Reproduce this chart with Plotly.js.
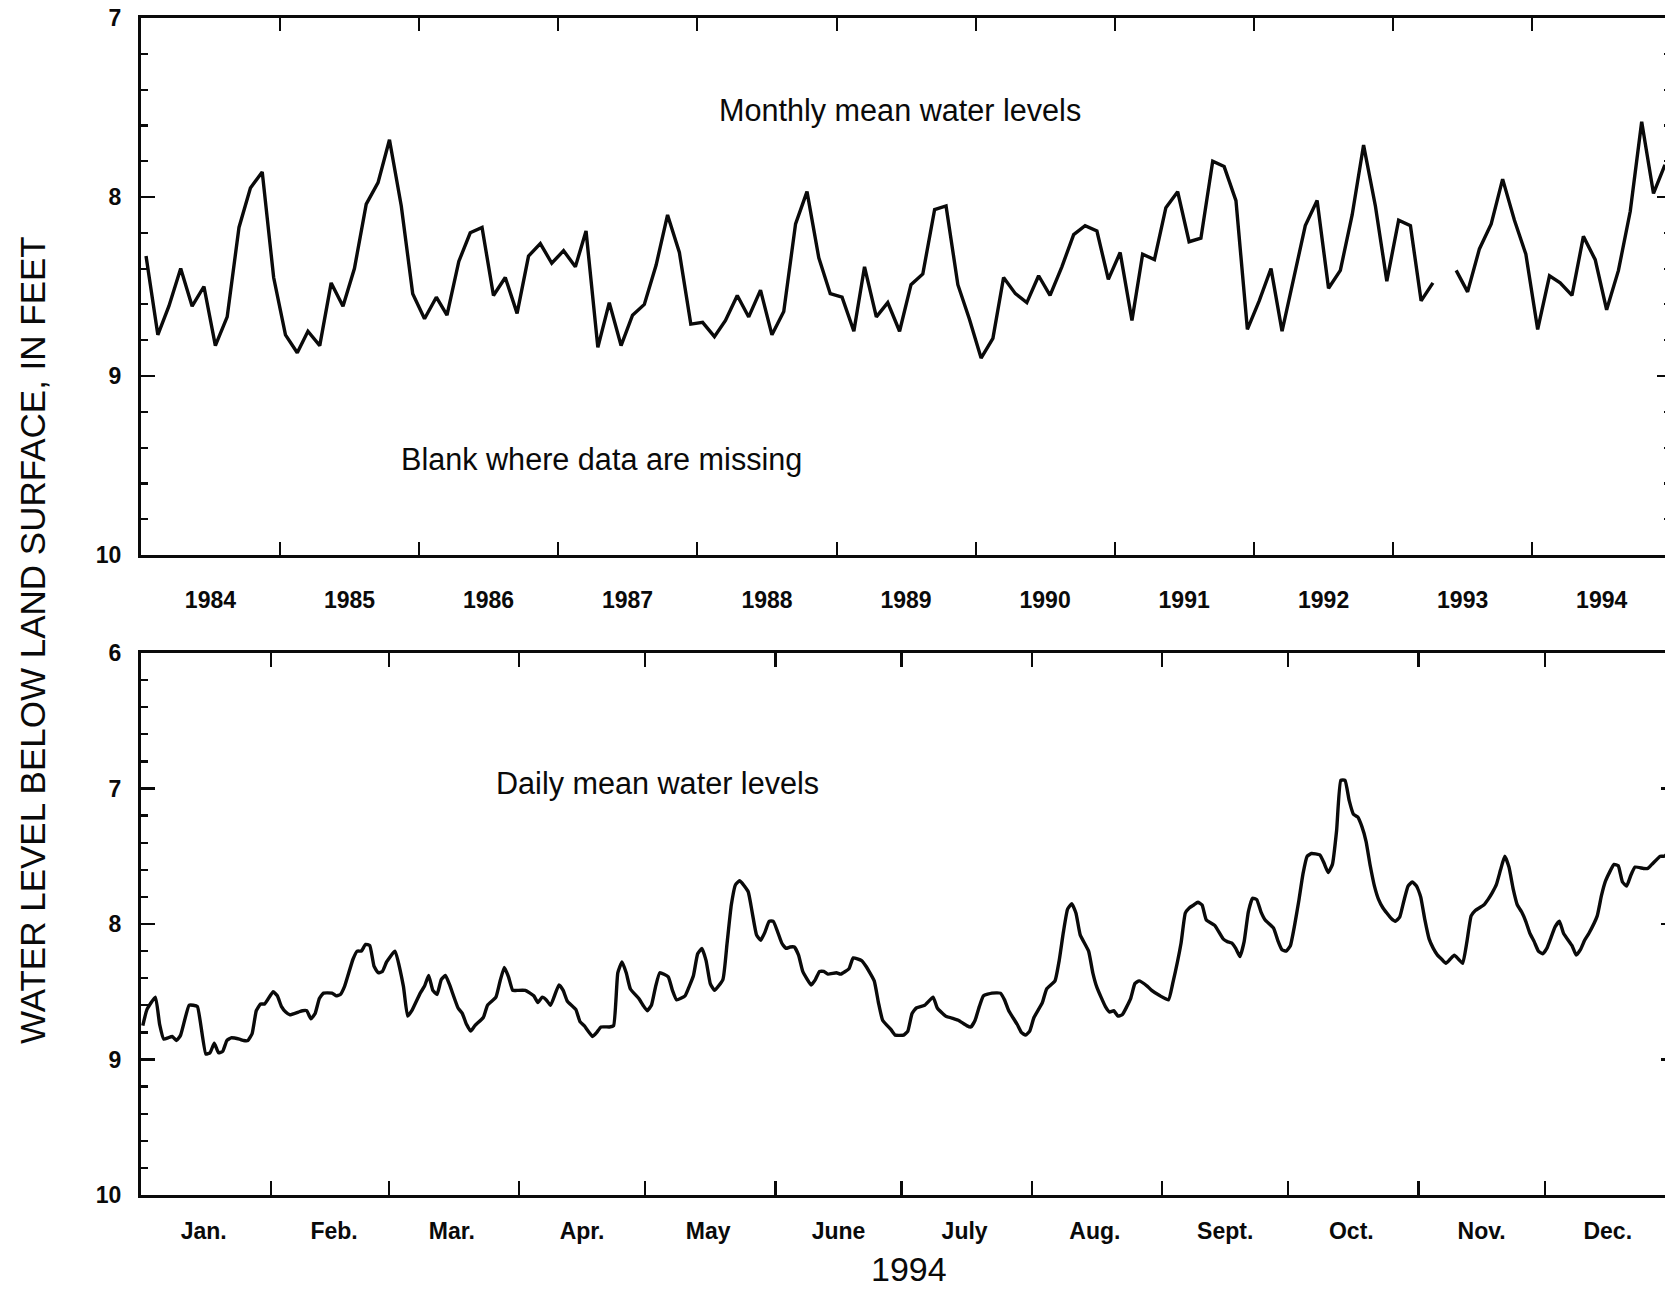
<!DOCTYPE html>
<html>
<head>
<meta charset="utf-8">
<script src="https://cdn.plot.ly/plotly-3.0.1.min.js"></script>
<style>
  html, body { margin: 0; padding: 0; overflow: hidden; background: #ffffff; }
  #chart { width: 1690px; height: 1289px; }
</style>
</head>
<body>
<div id="chart"></div>
<script>
// ---- Monthly mean water level below land surface (feet), by year ----
const years = [1984, 1985, 1986, 1987, 1988, 1989, 1990, 1991, 1992, 1993, 1994];
const levels1984 = [8.33, 8.77, 8.61, 8.40, 8.61, 8.50, 8.83, 8.67, 8.17, 7.95, 7.86, 8.45];
const levels1985 = [8.77, 8.87, 8.75, 8.83, 8.48, 8.61, 8.40, 8.04, 7.92, 7.68, 8.05, 8.54];
const levels1986 = [8.68, 8.56, 8.66, 8.36, 8.20, 8.17, 8.55, 8.45, 8.65, 8.33, 8.26, 8.37];
const levels1987 = [8.30, 8.39, 8.19, 8.84, 8.59, 8.83, 8.66, 8.60, 8.38, 8.10, 8.31, 8.71];
const levels1988 = [8.70, 8.78, 8.69, 8.55, 8.67, 8.52, 8.77, 8.64, 8.15, 7.97, 8.34, 8.54];
const levels1989 = [8.56, 8.75, 8.39, 8.67, 8.59, 8.75, 8.49, 8.43, 8.07, 8.05, 8.49, 8.68];
const levels1990 = [8.90, 8.79, 8.45, 8.54, 8.59, 8.44, 8.55, 8.39, 8.21, 8.16, 8.19, 8.46];
const levels1991 = [8.31, 8.69, 8.32, 8.35, 8.06, 7.97, 8.25, 8.23, 7.80, 7.83, 8.02, 8.74];
const levels1992 = [8.58, 8.40, 8.75, 8.44, 8.16, 8.02, 8.51, 8.41, 8.10, 7.71, 8.05, 8.47];
const levels1993 = [8.13, 8.16, 8.58, 8.48, null, 8.41, 8.53, 8.29, 8.15, 7.90, 8.13, 8.32];
const levels1994 = [8.74, 8.44, 8.48, 8.55, 8.22, 8.35, 8.63, 8.41, 8.08, 7.58, 7.98, 7.82];
const monthlyByYear = [levels1984, levels1985, levels1986, levels1987, levels1988, levels1989,
                       levels1990, levels1991, levels1992, levels1993, levels1994];

// ---- Daily mean water level, 1994 (day of year, feet below land surface) ----
const dailyDayOfYear = [
  1, 2, 4, 5, 6, 7, 8, 9, 10, 12, 13, 14, 16, 17, 18, 19, 20, 21, 22, 24, 25, 26, 27, 28, 29, 30,
  32, 33, 34, 35, 36, 38, 39, 40, 41, 42, 43, 44, 46, 47, 48, 49, 51, 52, 53, 54, 55, 56, 57, 58, 59,
  61, 63, 64, 65, 67, 68, 69, 70, 71, 72, 73, 74, 76, 77, 78, 79, 80, 82, 83, 85, 86, 87, 88, 89, 90,
  92, 94, 95, 96, 97, 98, 100, 101, 102, 104, 105, 106, 108, 109, 110, 112, 113, 114, 115, 116, 117, 119, 120,
  121, 122, 123, 124, 126, 127, 128, 130, 131, 132, 133, 134, 135, 136, 137, 139, 140, 141, 142, 143, 145,
  146, 147, 148, 149, 150, 151, 153, 154, 155, 156, 157, 158, 160, 161, 162, 163, 164, 166, 167, 169, 170,
  172, 173, 175, 176, 177, 179, 180, 182, 183, 184, 185, 187, 189, 190, 192, 194, 195, 197, 198, 199, 200,
  201, 203, 205, 206, 207, 209, 210, 211, 212, 213, 215, 216, 218, 219, 220, 221, 222, 223, 224, 226, 227,
  228, 230, 231, 232, 233, 234, 236, 237, 238, 240, 241, 243, 245, 246, 248, 249, 250, 251, 252, 253, 254,
  256, 258, 259, 260, 261, 262, 263, 264, 265, 266, 267, 268, 270, 271, 272, 273, 274, 275, 276, 277, 278,
  279, 281, 282, 283, 284, 285, 286, 287, 288, 289, 290, 291, 292, 293, 294, 295, 296, 298, 299, 300, 301,
  302, 303, 304, 305, 306, 307, 308, 309, 310, 311, 312, 313, 314, 315, 316, 317, 318, 319, 320, 321, 322,
  323, 324, 325, 326, 327, 328, 329, 330, 331, 332, 333, 334, 335, 336, 337, 338, 339, 341, 342, 343, 344,
  345, 347, 348, 349, 351, 352, 353, 354, 355, 356, 358, 359, 360, 362, 363, 364
];
const dailyLevel = [
  8.75, 8.63, 8.54, 8.74, 8.85, 8.84, 8.83, 8.86, 8.82, 8.60, 8.60, 8.61, 8.96, 8.95, 8.88, 8.95, 8.94, 8.86, 8.84, 8.85, 8.86, 8.86, 8.81, 8.64, 8.59, 8.59,
  8.50, 8.53, 8.61, 8.65, 8.67, 8.65, 8.64, 8.64, 8.70, 8.66, 8.55, 8.51, 8.51, 8.53, 8.52, 8.46, 8.26, 8.20, 8.20, 8.15, 8.16, 8.31, 8.36, 8.35, 8.28,
  8.20, 8.46, 8.68, 8.64, 8.51, 8.46, 8.38, 8.49, 8.52, 8.41, 8.38, 8.45, 8.62, 8.66, 8.74, 8.79, 8.75, 8.69, 8.60, 8.54, 8.42, 8.32, 8.39, 8.49, 8.49,
  8.49, 8.53, 8.58, 8.54, 8.56, 8.60, 8.45, 8.49, 8.57, 8.63, 8.72, 8.75, 8.83, 8.80, 8.76, 8.76, 8.75, 8.36, 8.28, 8.36, 8.48, 8.55, 8.60,
  8.64, 8.60, 8.46, 8.36, 8.39, 8.49, 8.56, 8.53, 8.46, 8.38, 8.22, 8.18, 8.27, 8.44, 8.49, 8.41, 8.14, 7.86, 7.71, 7.68, 7.76,
  7.92, 8.08, 8.12, 8.06, 7.98, 7.98, 8.14, 8.18, 8.17, 8.17, 8.23, 8.35, 8.45, 8.41, 8.35, 8.35, 8.37, 8.36, 8.37, 8.33, 8.25,
  8.27, 8.31, 8.42, 8.58, 8.71, 8.78, 8.82, 8.82, 8.79, 8.66, 8.62, 8.60, 8.54, 8.62, 8.68, 8.70, 8.71, 8.75, 8.76, 8.71, 8.61,
  8.53, 8.51, 8.51, 8.56, 8.64, 8.74, 8.80, 8.82, 8.79, 8.69, 8.58, 8.48, 8.42, 8.27, 8.06, 7.89, 7.85, 7.92, 8.08, 8.20, 8.36,
  8.47, 8.61, 8.65, 8.64, 8.68, 8.67, 8.55, 8.44, 8.42, 8.46, 8.49, 8.53, 8.56, 8.44, 8.14, 7.92, 7.88, 7.86, 7.84, 7.86, 7.97,
  8.01, 8.11, 8.13, 8.14, 8.18, 8.24, 8.13, 7.91, 7.81, 7.82, 7.91, 7.97, 8.03, 8.12, 8.19, 8.20, 8.16, 8.01, 7.83, 7.63, 7.50,
  7.48, 7.49, 7.55, 7.62, 7.56, 7.31, 6.94, 6.94, 7.09, 7.19, 7.21, 7.28, 7.39, 7.57, 7.72, 7.82, 7.88, 7.96, 7.98, 7.95, 7.83,
  7.72, 7.69, 7.72, 7.80, 7.97, 8.11, 8.18, 8.23, 8.26, 8.29, 8.26, 8.23, 8.26, 8.29, 8.13, 7.94, 7.90, 7.88, 7.86, 7.82, 7.77,
  7.71, 7.60, 7.50, 7.58, 7.74, 7.86, 7.91, 7.98, 8.07, 8.13, 8.20, 8.22, 8.18, 8.10, 8.02, 7.98, 8.07, 8.16, 8.23, 8.19, 8.12,
  8.07, 7.94, 7.79, 7.68, 7.56, 7.57, 7.69, 7.72, 7.64, 7.58, 7.59, 7.59, 7.56, 7.50, 7.50, 7.47
];

// ---- Axis labels ----
const yearLabels = ['1984', '1985', '1986', '1987', '1988', '1989', '1990', '1991', '1992', '1993', '1994'];
const monthLabels = ['Jan.', 'Feb.', 'Mar.', 'Apr.', 'May', 'June', 'July', 'Aug.', 'Sept.', 'Oct.', 'Nov.', 'Dec.'];

const pad2 = n => String(n).padStart(2, '0');

// monthly means are plotted at mid-month
const monthlyDates = [];
const monthlyValues = [];
years.forEach((yr, i) => {
  monthlyByYear[i].forEach((v, m) => {
    monthlyDates.push(`${yr}-${pad2(m + 1)}-15`);
    monthlyValues.push(v);
  });
});

// daily means are plotted at noon of each day
const dailyDates = dailyDayOfYear.map(d => {
  const t = new Date(Date.UTC(1994, 0, d, 12));
  return t.toISOString().slice(0, 10) + ' 12:00';
});

// tick positions: period boundaries and label centres
const yearStarts = years.slice(1).map(y => `${y}-01-01`);
const yearMids = years.map(y => `${y}-07-02`);
const monthStarts = monthLabels.slice(1).map((_, m) => `1994-${pad2(m + 2)}-01`);
const monthMids = monthLabels.map((_, m) => `1994-${pad2(m + 1)}-16`);

// ---- page geometry (px) ----
const W = 1690, H = 1289;
const left = 140.7;
const topRight = 1671.4, botRight = 1675;
const topPanel = [18, 555], botPanel = [653, 1195];
const fx = px => px / W;
const fy = py => 1 - py / H;

const ink = '#0a0a0a';
const FONT = '"Liberation Sans", Arial, Helvetica, sans-serif';
const tickFont = { family: FONT, size: 23, color: ink, weight: 'bold' };

const frameAxis = {
  showline: true, linecolor: ink, linewidth: 2.8, mirror: 'ticks',
  ticks: 'inside', tickcolor: ink, tickwidth: 2.2, showgrid: false, zeroline: false,
  fixedrange: true
};

const traces = [
  {
    x: monthlyDates, y: monthlyValues, xaxis: 'x', yaxis: 'y',
    mode: 'lines', line: { color: ink, width: 3.4 }, connectgaps: false,
    hoverinfo: 'skip', showlegend: false
  },
  {
    x: dailyDates, y: dailyLevel, xaxis: 'x2', yaxis: 'y2',
    mode: 'lines', line: { color: ink, width: 3.4, shape: 'spline', smoothing: 0.4 },
    hoverinfo: 'skip', showlegend: false
  },
  // empty traces that keep the label-only axes in place
  { x: [], y: [], xaxis: 'x3', yaxis: 'y', showlegend: false, hoverinfo: 'skip' },
  { x: [], y: [], xaxis: 'x4', yaxis: 'y2', showlegend: false, hoverinfo: 'skip' }
];

const layout = {
  width: W, height: H,
  margin: { l: 0, r: 0, t: 0, b: 0 },
  paper_bgcolor: '#ffffff', plot_bgcolor: '#ffffff',
  showlegend: false,
  font: { family: FONT, color: ink },

  // monthly panel
  xaxis: Object.assign({}, frameAxis, {
    type: 'date', domain: [fx(left), fx(topRight)], anchor: 'y',
    range: ['1984-01-01', '1995-01-01'],
    tickmode: 'array', tickvals: yearStarts, ticklen: 13, showticklabels: false
  }),
  xaxis3: {
    type: 'date', overlaying: 'x', anchor: 'y', side: 'bottom',
    range: ['1984-01-01', '1995-01-01'],
    tickmode: 'array', tickvals: yearMids, ticktext: yearLabels,
    ticks: '', showline: false, showgrid: false, zeroline: false,
    tickfont: tickFont, ticklabelstandoff: 29, fixedrange: true
  },
  yaxis: Object.assign({}, frameAxis, {
    domain: [fy(topPanel[1]), fy(topPanel[0])], anchor: 'x',
    range: [10, 7], tickmode: 'array', tickvals: [7, 8, 9, 10], ticklen: 14,
    minor: { dtick: 0.2, ticks: 'inside', ticklen: 7, tickwidth: 2.2, tickcolor: ink },
    tickfont: tickFont, ticklabelstandoff: 12
  }),

  // daily panel
  xaxis2: Object.assign({}, frameAxis, {
    type: 'date', domain: [fx(left), fx(botRight)], anchor: 'y2',
    range: ['1994-01-01', '1995-01-01'],
    tickmode: 'array', tickvals: monthStarts, ticklen: 14, showticklabels: false
  }),
  xaxis4: {
    type: 'date', overlaying: 'x2', anchor: 'y2', side: 'bottom',
    range: ['1994-01-01', '1995-01-01'],
    tickmode: 'array', tickvals: monthMids, ticktext: monthLabels,
    ticks: '', showline: false, showgrid: false, zeroline: false,
    tickfont: tickFont, ticklabelstandoff: 20, fixedrange: true
  },
  yaxis2: Object.assign({}, frameAxis, {
    domain: [fy(botPanel[1]), fy(botPanel[0])], anchor: 'x2',
    range: [10, 6], tickmode: 'array', tickvals: [6, 7, 8, 9, 10], ticklen: 14,
    minor: { dtick: 0.2, ticks: 'inside', ticklen: 7, tickwidth: 2.2, tickcolor: ink },
    tickfont: tickFont, ticklabelstandoff: 12
  }),

  annotations: [
    { text: 'Monthly mean water levels', xref: 'paper', yref: 'paper',
      x: fx(900), y: fy(111), xanchor: 'center', yanchor: 'middle', showarrow: false,
      font: { family: FONT, size: 30.6, color: ink } },
    { text: 'Blank where data are missing', xref: 'paper', yref: 'paper',
      x: fx(601), y: fy(459), xanchor: 'center', yanchor: 'middle', showarrow: false,
      font: { family: FONT, size: 30.6, color: ink } },
    { text: 'Daily mean water levels', xref: 'paper', yref: 'paper',
      x: fx(657), y: fy(783), xanchor: 'center', yanchor: 'middle', showarrow: false,
      font: { family: FONT, size: 30.6, color: ink } },
    { text: '1994', xref: 'paper', yref: 'paper',
      x: fx(909), y: 0, xanchor: 'center', yanchor: 'bottom', showarrow: false,
      borderpad: 0, font: { family: FONT, size: 34, color: ink } },
    { text: 'WATER LEVEL BELOW LAND SURFACE, IN FEET', xref: 'paper', yref: 'paper',
      x: fx(32), y: fy(640), xanchor: 'center', yanchor: 'middle', showarrow: false,
      textangle: -90, font: { family: FONT, size: 35, color: ink } }
  ]
};

Plotly.newPlot('chart', traces, layout, { staticPlot: true, displayModeBar: false });
</script>
</body>
</html>
